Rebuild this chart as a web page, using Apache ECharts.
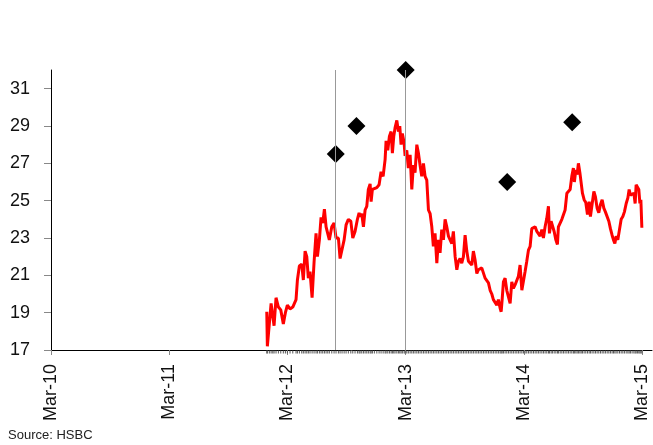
<!DOCTYPE html>
<html>
<head>
<meta charset="utf-8">
<script src="https://cdn.jsdelivr.net/npm/echarts@6/dist/echarts.min.js"></script>
<style>
  html, body { margin: 0; padding: 0; background: #fff; }
  #chart { width: 653px; height: 445px; }
</style>
</head>
<body>
<div id="chart"></div>
<script>
// x positions are months since Mar-2010
const xTickLabels = ['Mar-10', 'Mar-11', 'Mar-12', 'Mar-13', 'Mar-14', 'Mar-15'];
const xTickMonths = [0, 12, 24, 36, 48, 60];
const yTickValues = [17, 19, 21, 23, 25, 27, 29, 31];

const priceMonths = [
  21.90, 21.96, 22.16, 22.34, 22.51, 22.64, 22.84, 23.08, 23.32, 23.58, 23.79, 23.99,
  24.26, 24.54, 24.87, 25.01, 25.21, 25.45, 25.61, 25.79, 25.96, 26.12, 26.29, 26.50,
  26.70, 26.90, 27.04, 27.24, 27.41, 27.58, 27.75, 27.92, 28.09, 28.25, 28.50, 28.73,
  28.93, 29.17, 29.34, 29.54, 29.75, 29.95, 30.18, 30.43, 30.63, 30.86, 31.10, 31.27,
  31.37, 31.54, 31.71, 31.88, 32.05, 32.21, 32.39, 32.49, 32.62, 32.82, 33.07, 33.30,
  33.50, 33.71, 33.91, 34.01, 34.18, 34.35, 34.52, 34.65, 34.79, 34.92, 35.10, 35.26,
  35.40, 35.53, 35.66, 35.84, 35.94, 36.11, 36.27, 36.45, 36.62, 36.78, 36.95, 37.13,
  37.29, 37.46, 37.63, 37.80, 37.97, 38.14, 38.31, 38.48, 38.65, 38.81, 38.98, 39.16,
  39.32, 39.49, 39.66, 39.83, 40.00, 40.17, 40.34, 40.51, 40.68, 40.84, 41.02, 41.19,
  41.35, 41.52, 41.69, 41.86, 42.03, 42.20, 42.37, 42.54, 42.71, 42.87, 43.05, 43.22,
  43.38, 43.55, 43.72, 43.89, 44.06, 44.23, 44.40, 44.57, 44.74, 44.90, 45.08, 45.25,
  45.41, 45.58, 45.69, 45.79, 45.92, 46.09, 46.26, 46.43, 46.60, 46.77, 46.93, 47.11,
  47.28, 47.44, 47.61, 47.79, 47.95, 48.12, 48.29, 48.46, 48.63, 48.80, 48.97, 49.14,
  49.31, 49.47, 49.64, 49.82, 49.98, 50.15, 50.32, 50.49, 50.59, 50.76, 50.89, 51.07,
  51.24, 51.40, 51.50, 51.68, 51.85, 52.01, 52.18, 52.36, 52.52, 52.69, 52.86, 53.02,
  53.12, 53.27, 53.40, 53.53, 53.68, 53.81, 53.94, 54.11, 54.28, 54.45, 54.62, 54.75,
  54.92, 55.10, 55.26, 55.43, 55.60, 55.77, 55.94, 56.11, 56.27, 56.45, 56.62, 56.78,
  56.95, 57.09, 57.23, 57.36, 57.53, 57.70, 57.87, 58.04, 58.20, 58.38, 58.55, 58.68,
  58.81, 58.98, 59.16, 59.29, 59.39, 59.52, 59.66, 59.77, 59.87, 59.97
];
const priceValues = [
  19.05, 17.2, 17.3, 19.5, 18.8, 18.3, 19.8, 19.3, 19.15, 18.4, 19.0, 19.4,
  19.2, 19.3, 19.7, 20.75, 21.5, 21.6, 20.75, 22.3, 22.0, 20.85, 21.2, 19.8,
  21.7, 23.25, 22.0, 22.9, 24.1, 23.8, 24.55, 23.6, 23.7, 22.9, 23.6, 23.8,
  23.0, 23.0, 21.9, 21.8, 22.9, 23.7, 24.0, 23.9, 23.0, 23.35, 24.0, 24.35,
  24.15, 24.3, 23.6, 24.5, 24.7, 25.6, 25.9, 24.95, 25.6, 25.7, 25.7, 25.85,
  26.55, 26.3, 27.2, 28.2, 27.7, 28.45, 28.7, 27.55, 28.45, 28.9, 29.3, 28.7,
  29.0, 28.0, 28.6, 28.1, 27.4, 27.7, 26.75, 27.45, 25.6, 26.9, 26.5, 28.0,
  27.55, 26.9, 26.3, 27.0, 26.3, 26.1, 24.5, 24.3, 23.6, 22.55, 23.25, 21.65,
  22.9, 22.2, 23.45, 22.9, 24.0, 23.6, 23.1, 23.0, 22.7, 23.35, 22.0, 21.3,
  21.75, 21.9, 21.65, 22.0, 23.15, 22.3, 21.75, 21.8, 21.55, 22.3, 21.8, 21.1,
  21.3, 21.2, 21.4, 21.3, 20.85, 20.75, 20.6, 20.2, 20.0, 19.7, 19.7, 19.4,
  19.7, 19.25, 19.05, 19.7, 20.65, 20.85, 20.2, 19.85, 19.5, 20.65, 20.3, 20.5,
  20.4, 20.95, 21.55, 20.2, 20.2, 21.2, 21.75, 22.35, 22.55, 23.5, 23.5, 23.6,
  23.35, 23.45, 23.1, 23.45, 23.0, 23.6, 24.05, 24.7, 23.25, 23.9, 24.0, 23.35,
  22.9, 22.65, 23.6, 23.7, 24.0, 24.05, 24.5, 25.4, 25.5, 25.6, 26.3, 26.75,
  26.0, 26.65, 26.4, 27.0, 26.5, 25.95, 25.4, 25.05, 24.9, 24.25, 24.95, 24.15,
  24.05, 25.5, 25.2, 24.6, 24.35, 24.8, 25.05, 24.6, 24.4, 24.35, 23.9, 23.5,
  23.15, 22.9, 22.7, 23.1, 22.9, 23.0, 24.0, 24.15, 24.4, 24.85, 25.15, 25.6,
  25.3, 25.2, 25.4, 24.85, 25.85, 25.95, 25.6, 24.85, 25.05, 23.55
];

const targetMonths = [28.9, 31.0, 36.0, 46.3, 52.9];
const targetValues = [27.5, 29.0, 32.0, 26.0, 29.2];

const eventMonths = [28.9, 36.0];

const FONT = "'Liberation Sans', Arial, sans-serif";
const yMin = 17, yMax = 32;

const chart = echarts.init(document.getElementById('chart'), null, { renderer: 'canvas' });

chart.setOption({
  animation: false,
  backgroundColor: '#ffffff',
  grid: { left: 51, right: 1, top: 70, bottom: 95, containLabel: false },
  graphic: [{
    type: 'text', left: 8, top: 429,
    style: { text: 'Source: HSBC', font: "13px " + FONT, fill: '#222' }
  }],
  xAxis: {
    type: 'value', min: 0, max: 61, interval: 12,
    axisLine: { show: true, onZero: false, lineStyle: { color: '#000', width: 1 } },
    axisTick: { show: true, inside: false, length: 5, lineStyle: { color: '#888' }, customValues: xTickMonths },
    axisLabel: {
      show: true, rotate: 90, margin: 14, color: '#111', fontFamily: FONT, fontSize: 18,
      customValues: xTickMonths,
      formatter: v => { const i = xTickMonths.indexOf(v); return i >= 0 ? xTickLabels[i] : ''; }
    },
    splitLine: { show: false }
  },
  yAxis: {
    type: 'value', min: yMin, max: yMax,
    axisLine: { show: true, lineStyle: { color: '#000', width: 1 } },
    axisTick: { show: true, inside: false, length: 7, lineStyle: { color: '#888' }, customValues: yTickValues },
    axisLabel: {
      show: true, margin: 21, color: '#111', fontFamily: FONT, fontSize: 18,
      customValues: yTickValues,
      formatter: v => (yTickValues.indexOf(v) >= 0 ? String(v) : '')
    },
    splitLine: { show: false }
  },
  series: [
    {
      name: 'date ticks', type: 'scatter', clip: false, silent: true,
      symbol: 'rect', symbolSize: [1, 3], symbolOffset: [0, 2],
      itemStyle: { color: '#555', opacity: 1 },
      data: priceMonths.map(m => [m, yMin]),
      z: 1
    },
    {
      name: 'Price', type: 'line', showSymbol: false, symbol: 'none',
      lineStyle: { color: '#ff0000', width: 3 },
      data: priceMonths.map((m, i) => [m, priceValues[i]]),
      markLine: {
        silent: true, symbol: ['none', 'none'], label: { show: false },
        lineStyle: { color: '#999', width: 1, type: 'solid' },
        data: eventMonths.map(m => ({ xAxis: m }))
      },
      z: 3
    },
    {
      name: 'Targets', type: 'scatter', clip: false,
      symbol: 'diamond', symbolSize: 18,
      itemStyle: { color: '#000', opacity: 1 },
      data: targetMonths.map((m, i) => [m, targetValues[i]]),
      z: 4
    }
  ]
});
</script>
</body>
</html>
